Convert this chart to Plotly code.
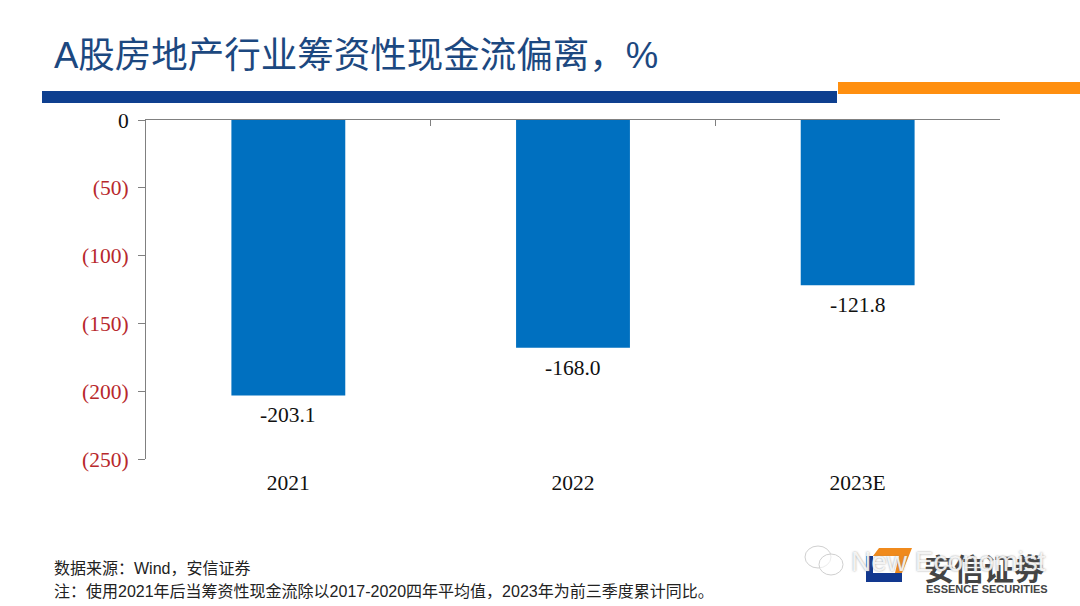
import plotly.graph_objects as go

W, H = 1080, 606
SANS = 'Liberation Sans, Noto Sans CJK SC'
SERIF = 'Liberation Serif, Noto Serif CJK SC'

categories = ['2021', '2022', '2023E']
values = [-203.1, -168.0, -121.8]
bar_labels = ['-203.1', '-168.0', '-121.8']
y_ticks = [0, -50, -100, -150, -200, -250]
y_labels = ['0', '(50)', '(100)', '(150)', '(200)', '(250)']
title = 'A股房地产行业筹资性现金流偏离，%'
source = '数据来源：Wind，安信证券'
note = '注：使用2021年后当筹资性现金流除以2017-2020四年平均值，2023年为前三季度累计同比。'


def px(x):
    return x / W


def py(y):
    return 1 - y / H


def rect(x0, y0, x1, y1, color):
    return dict(type='rect', xref='paper', yref='paper', x0=px(x0), x1=px(x1),
                y0=py(y0), y1=py(y1), fillcolor=color, line_width=0, layer='above')


def poly(points, color):
    d = 'M' + ' L'.join(f'{px(a):.5f},{py(b):.5f}' for a, b in points) + ' Z'
    return dict(type='path', xref='paper', yref='paper', path=d, fillcolor=color,
                line_width=0, layer='above')


def label(x, y, text, size, color, family=SANS, anchor='left', **font):
    return dict(xref='paper', yref='paper', x=px(x), y=py(y), text=text, showarrow=False,
                xanchor=anchor, yanchor='middle',
                font=dict(size=size, color=color, family=family, **font))


tick_text = [t if t == '0' else f'<span style="color:#b8282c">{t}</span>' for t in y_labels]

fig = go.Figure()
fig.add_trace(go.Bar(x=categories, y=values, width=0.4, marker=dict(color='#0070c0', line_width=0)))
# carries the top axis with the ticks between the categories
fig.add_trace(go.Scatter(x=categories, y=values, xaxis='x2', mode='markers',
                         marker=dict(opacity=0), hoverinfo='skip'))

shapes = [
    rect(42, 91, 837, 103, '#0e3f8f'),
    rect(838, 82, 1080, 94, '#ff8f0f'),
    # logo
    rect(866, 556, 902, 582, '#12388f'),
    rect(873, 556, 902, 573, '#ffffff'),
    poly([(879, 548), (912, 548), (902, 573), (895, 573), (899, 556), (873, 556)], '#f08a1c'),
]
# chat bubbles of the watermark
for x0, y0, x1, y1 in [(805, 546, 831, 568), (819, 554, 843, 575)]:
    shapes.append(dict(type='circle', xref='paper', yref='paper', x0=px(x0), x1=px(x1),
                       y0=py(y0), y1=py(y1), fillcolor='rgba(255,255,255,0.6)',
                       line=dict(color='#d0d0d0', width=1), layer='above'))

annotations = [
    label(52, 55, title, 36.5, '#1c4880'),
    label(52, 568, source, 16, '#222222'),
    label(52, 591, note, 16, '#222222'),
    label(922, 569, '<b>安信证券</b>', 30, '#444444'),
    label(924, 589, '<b>ESSENCE SECURITIES</b>', 11, '#444444'),
    label(849, 561, 'New Economist', 28, 'rgba(255,255,255,0.85)', shadow='0 0 2px #888888'),
]
for i, (val, txt) in enumerate(zip(values, bar_labels)):
    annotations.append(dict(x=i, y=val, xref='x', yref='y', text=txt, showarrow=False,
                            yanchor='top', yshift=-6, font=dict(family=SERIF, size=21.5, color='#111111')))

fig.update_layout(
    width=W,
    height=H,
    margin=dict(l=0, r=0, t=0, b=0, autoexpand=False),
    paper_bgcolor='white',
    plot_bgcolor='white',
    showlegend=False,
    shapes=shapes,
    annotations=annotations,
    xaxis=dict(domain=[px(146), px(1000)], type='category', categoryarray=categories,
               range=[-0.5, 2.5], showgrid=False, zeroline=False, showline=False,
               ticks='outside', ticklen=4, tickcolor='rgba(0,0,0,0)',
               tickfont=dict(family=SERIF, size=21.5, color='#111111')),
    xaxis2=dict(domain=[px(146), px(1000)], type='category', categoryarray=categories,
                overlaying='x', side='top', range=[-0.5, 2.5], showgrid=False, zeroline=False,
                showline=True, linecolor='#808080', linewidth=1, tickson='boundaries',
                ticks='inside', ticklen=6, tickcolor='#808080', showticklabels=False),
    yaxis=dict(domain=[py(459), py(120)], range=[-250, 0], tickvals=y_ticks, ticktext=tick_text,
               showgrid=False, zeroline=False, showline=True, linecolor='#808080', linewidth=1,
               ticks='outside', ticklen=7, tickcolor='#808080', ticklabelstandoff=5,
               tickfont=dict(family=SERIF, size=21.5, color='#111111')),
)

fig.write_html('out.html', config=dict(displayModeBar=False),
               post_script="document.body.style.margin='0';document.body.style.overflow='hidden';")
